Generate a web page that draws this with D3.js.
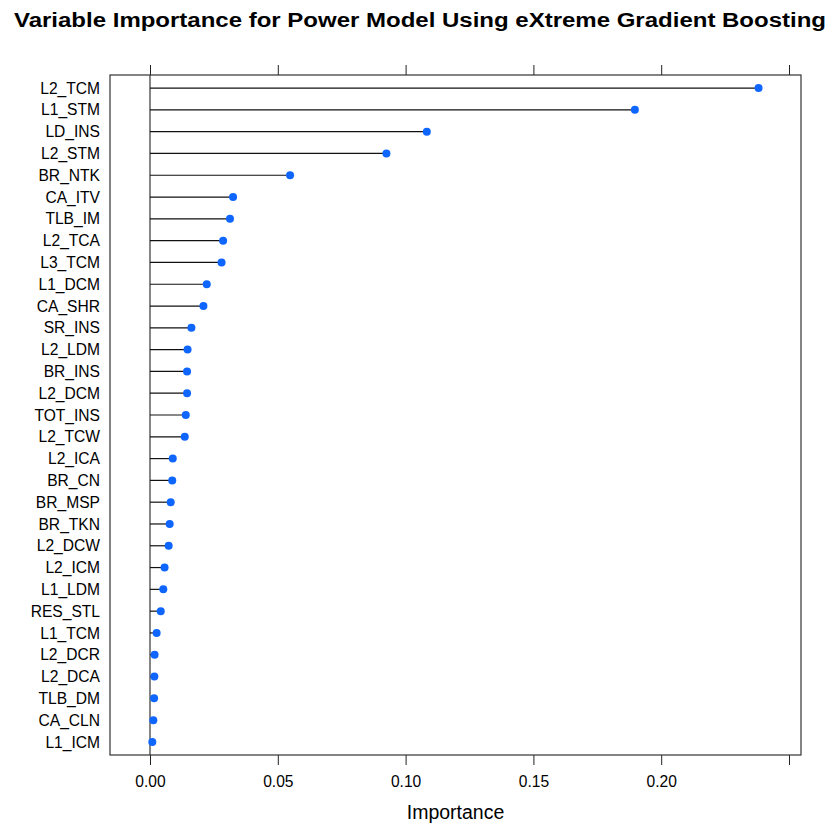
<!DOCTYPE html>
<html>
<head>
<meta charset="utf-8">
<script src="https://cdn.jsdelivr.net/npm/d3@7"></script>
<style>
  body { margin: 0; background: #fff; }
  svg { font-family: "Liberation Sans", Arial, Helvetica, sans-serif; }
  .frame { fill: none; stroke: #333; stroke-width: 1.2; }
  .stem { stroke: #111; stroke-width: 1.2; }
  .zero { stroke: #444; stroke-width: 1.3; }
  .dot { fill: #0f66ff; }
  .tick line { stroke: #222; }
</style>
</head>
<body>
<svg width="840" height="840"></svg>
<script>
// variables, top row first
var variables = ["L2_TCM", "L1_STM", "LD_INS", "L2_STM", "BR_NTK", "CA_ITV", "TLB_IM",
    "L2_TCA", "L3_TCM", "L1_DCM", "CA_SHR", "SR_INS", "L2_LDM", "BR_INS", "L2_DCM",
    "TOT_INS", "L2_TCW", "L2_ICA", "BR_CN", "BR_MSP", "BR_TKN", "L2_DCW", "L2_ICM",
    "L1_LDM", "RES_STL", "L1_TCM", "L2_DCR", "L2_DCA", "TLB_DM", "CA_CLN", "L1_ICM"];
var importance = [0.2381, 0.1897, 0.1083, 0.0925, 0.0548, 0.0325, 0.0313,
    0.0286, 0.0280, 0.0222, 0.0209, 0.0162, 0.0147, 0.0145, 0.0145,
    0.0140, 0.0136, 0.0089, 0.0087, 0.0081, 0.0077, 0.0073, 0.0057,
    0.0052, 0.0042, 0.0026, 0.0018, 0.0017, 0.0016, 0.0013, 0.0009];
var xTicks = [0, 0.05, 0.10, 0.15, 0.20, 0.25];
var xLabelTicks = [0, 0.05, 0.10, 0.15, 0.20];

var svg = d3.select("svg");
var pLeft = 110, pRight = 801, pTop = 75, pBottom = 755;
var n = variables.length;

var x = d3.scaleLinear().domain([-0.01565, 0.2547]).range([pLeft, pRight]);
// lattice style: row 1 at bottom, range padded by 0.6
var y = d3.scaleLinear().domain([0.4, n + 0.6]).range([pBottom, pTop]);
function rowY(i) { return y(n - i); }

var data = variables.map(function(v, i) { return { name: v, value: importance[i], i: i }; });

svg.append("text")
    .attr("x", 420).attr("y", 27)
    .attr("text-anchor", "middle")
    .attr("font-weight", "bold")
    .attr("font-size", 20)
    .attr("textLength", 812)
    .attr("lengthAdjust", "spacingAndGlyphs")
    .text("Variable Importance for Power Model Using eXtreme Gradient Boosting");

// zero line
svg.append("line").attr("class", "zero")
    .attr("x1", x(0)).attr("x2", x(0))
    .attr("y1", pTop).attr("y2", pBottom);

svg.selectAll(".stem").data(data).enter().append("line")
    .attr("class", "stem")
    .attr("x1", x(0))
    .attr("x2", function(d) { return x(d.value); })
    .attr("y1", function(d) { return rowY(d.i); })
    .attr("y2", function(d) { return rowY(d.i); });

svg.selectAll(".dot").data(data).enter().append("circle")
    .attr("class", "dot")
    .attr("cx", function(d) { return x(d.value); })
    .attr("cy", function(d) { return rowY(d.i); })
    .attr("r", 4);

svg.selectAll(".ylab").data(data).enter().append("text")
    .attr("class", "ylab")
    .attr("x", 100)
    .attr("y", function(d) { return rowY(d.i); })
    .attr("dy", "0.36em")
    .attr("text-anchor", "end")
    .attr("font-size", 15.6)
    .text(function(d) { return d.name; });

// bottom and top axes
var bottomAxis = d3.axisBottom(x).tickValues(xTicks).tickSize(10)
    .tickFormat(function(d) { return xLabelTicks.indexOf(d) >= 0 ? d3.format(".2f")(d) : ""; });
var gb = svg.append("g").attr("transform", "translate(0," + pBottom + ")").call(bottomAxis);
gb.select(".domain").remove();
gb.attr("font-family", null).attr("font-size", 15.6);
gb.selectAll("text").attr("fill", "#000").attr("dy", 0).attr("y", 32);

var topAxis = d3.axisTop(x).tickValues(xTicks).tickSize(10).tickFormat("");
var gt = svg.append("g").attr("transform", "translate(0," + pTop + ")").call(topAxis);
gt.select(".domain").remove();

svg.append("rect").attr("class", "frame")
    .attr("x", pLeft).attr("y", pTop)
    .attr("width", pRight - pLeft).attr("height", pBottom - pTop);

svg.append("text")
    .attr("x", (pLeft + pRight) / 2).attr("y", 819)
    .attr("text-anchor", "middle")
    .attr("font-size", 19.5)
    .text("Importance");
</script>
</body>
</html>
